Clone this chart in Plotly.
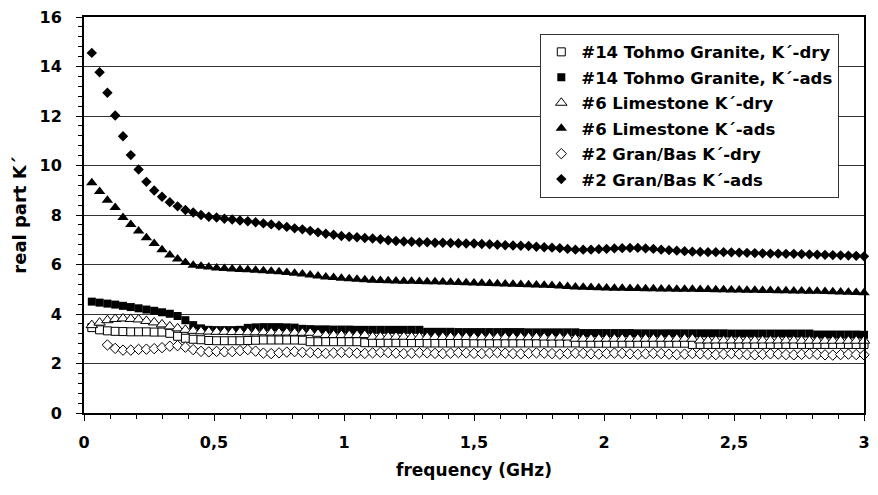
import plotly.graph_objects as go

# frequency sweep (GHz), 100 points
freq = [0.03, 0.06, 0.09, 0.12, 0.15, 0.18, 0.21, 0.24, 0.27, 0.30,
        0.33, 0.36, 0.39, 0.42, 0.45, 0.48, 0.51, 0.54, 0.57, 0.60,
        0.63, 0.66, 0.69, 0.72, 0.75, 0.78, 0.81, 0.84, 0.87, 0.90,
        0.93, 0.96, 0.99, 1.02, 1.05, 1.08, 1.11, 1.14, 1.17, 1.20,
        1.23, 1.26, 1.29, 1.32, 1.35, 1.38, 1.41, 1.44, 1.47, 1.50,
        1.53, 1.56, 1.59, 1.62, 1.65, 1.68, 1.71, 1.74, 1.77, 1.80,
        1.83, 1.86, 1.89, 1.92, 1.95, 1.98, 2.01, 2.04, 2.07, 2.10,
        2.13, 2.16, 2.19, 2.22, 2.25, 2.28, 2.31, 2.34, 2.37, 2.40,
        2.43, 2.46, 2.49, 2.52, 2.55, 2.58, 2.61, 2.64, 2.67, 2.70,
        2.73, 2.76, 2.79, 2.82, 2.85, 2.88, 2.91, 2.94, 2.97, 3.00]

granite_dry = [3.45, 3.36, 3.32, 3.30, 3.29, 3.28, 3.28, 3.28, 3.27, 3.27,
               3.22, 3.10, 3.02, 2.98, 2.96, 2.93, 2.92, 2.92, 2.92, 2.92,
               2.93, 2.94, 2.95, 2.95, 2.95, 2.95, 2.95, 2.94, 2.88, 2.88,
               2.88, 2.88, 2.88, 2.88, 2.88, 2.84, 2.84, 2.84, 2.84, 2.84,
               2.84, 2.84, 2.84, 2.83, 2.83, 2.83, 2.83, 2.83, 2.83, 2.83,
               2.83, 2.83, 2.83, 2.83, 2.83, 2.83, 2.83, 2.83, 2.83, 2.83,
               2.83, 2.83, 2.83, 2.82, 2.82, 2.82, 2.82, 2.82, 2.82, 2.82,
               2.82, 2.82, 2.82, 2.82, 2.82, 2.82, 2.82, 2.77, 2.77, 2.77,
               2.77, 2.77, 2.77, 2.77, 2.77, 2.77, 2.77, 2.77, 2.77, 2.77,
               2.77, 2.77, 2.77, 2.77, 2.77, 2.77, 2.77, 2.77, 2.77, 2.77]

granite_ads = [4.50, 4.46, 4.42, 4.38, 4.33, 4.28, 4.23, 4.18, 4.13, 4.07,
               4.01, 3.92, 3.75, 3.55, 3.42, 3.36, 3.35, 3.35, 3.35, 3.36,
               3.44, 3.46, 3.47, 3.47, 3.47, 3.46, 3.45, 3.40, 3.39, 3.38,
               3.38, 3.37, 3.37, 3.37, 3.36, 3.36, 3.36, 3.36, 3.36, 3.36,
               3.36, 3.36, 3.36, 3.28, 3.28, 3.28, 3.28, 3.27, 3.27, 3.27,
               3.27, 3.27, 3.27, 3.27, 3.27, 3.27, 3.26, 3.26, 3.26, 3.26,
               3.26, 3.26, 3.26, 3.23, 3.23, 3.23, 3.23, 3.23, 3.23, 3.23,
               3.22, 3.22, 3.22, 3.22, 3.22, 3.22, 3.22, 3.22, 3.22, 3.22,
               3.22, 3.22, 3.21, 3.21, 3.21, 3.21, 3.21, 3.21, 3.21, 3.21,
               3.21, 3.21, 3.21, 3.17, 3.17, 3.17, 3.17, 3.17, 3.17, 3.16]

limestone_dry = [3.55, 3.65, 3.75, 3.80, 3.82, 3.80, 3.78, 3.72, 3.66, 3.58,
                 3.50, 3.42, 3.36, 3.32, 3.30, 3.29, 3.28, 3.28, 3.27, 3.27,
                 3.26, 3.26, 3.26, 3.25, 3.25, 3.25, 3.24, 3.24, 3.24, 3.20,
                 3.15, 3.15, 3.15, 3.15, 3.15, 3.15, 3.08, 3.08, 3.08, 3.08,
                 3.08, 3.07, 3.07, 3.07, 3.07, 3.07, 3.07, 3.07, 3.07, 3.06,
                 3.06, 3.06, 3.06, 3.06, 3.06, 3.06, 3.06, 3.06, 3.05, 3.05,
                 3.05, 3.05, 3.00, 3.00, 3.00, 3.00, 3.00, 3.00, 3.00, 3.00,
                 3.00, 3.00, 3.00, 3.00, 3.00, 3.00, 3.00, 3.00, 2.93, 2.93,
                 2.93, 2.93, 2.93, 2.93, 2.93, 2.93, 2.93, 2.93, 2.93, 2.93,
                 2.93, 2.92, 2.92, 2.92, 2.92, 2.92, 2.92, 2.92, 2.92, 2.92]

limestone_ads = [9.30, 8.95, 8.60, 8.30, 7.90, 7.62, 7.35, 7.08, 6.85, 6.60,
                 6.38, 6.22, 6.08, 5.97, 5.93, 5.90, 5.86, 5.84, 5.82, 5.80,
                 5.79, 5.77, 5.75, 5.73, 5.71, 5.68, 5.65, 5.62, 5.58, 5.54,
                 5.50, 5.47, 5.44, 5.42, 5.40, 5.38, 5.36, 5.35, 5.34, 5.33,
                 5.32, 5.32, 5.31, 5.30, 5.30, 5.29, 5.28, 5.27, 5.26, 5.25,
                 5.24, 5.23, 5.22, 5.21, 5.20, 5.19, 5.18, 5.17, 5.16, 5.15,
                 5.13, 5.11, 5.09, 5.08, 5.07, 5.06, 5.05, 5.04, 5.04, 5.03,
                 5.03, 5.02, 5.02, 5.01, 5.01, 5.00, 5.00, 5.00, 4.99, 4.99,
                 4.98, 4.98, 4.97, 4.97, 4.96, 4.96, 4.95, 4.95, 4.94, 4.94,
                 4.93, 4.93, 4.92, 4.92, 4.91, 4.90, 4.89, 4.88, 4.87, 4.86]

granbas_dry = [None, None, 2.75, 2.61, 2.54, 2.54, 2.57, 2.58, 2.60, 2.64,
               2.70, 2.72, 2.66, 2.56, 2.49, 2.47, 2.49, 2.47, 2.48, 2.52,
               2.56, 2.50, 2.42, 2.40, 2.43, 2.46, 2.48, 2.45, 2.44, 2.42,
               2.41, 2.43, 2.45, 2.44, 2.42, 2.41, 2.43, 2.45, 2.44, 2.42,
               2.40, 2.42, 2.44, 2.43, 2.41, 2.40, 2.42, 2.44, 2.43, 2.41,
               2.40, 2.42, 2.44, 2.42, 2.40, 2.39, 2.41, 2.43, 2.42, 2.40,
               2.38, 2.40, 2.42, 2.41, 2.39, 2.38, 2.40, 2.42, 2.41, 2.39,
               2.37, 2.39, 2.41, 2.40, 2.38, 2.36, 2.38, 2.40, 2.39, 2.37,
               2.36, 2.38, 2.40, 2.38, 2.36, 2.35, 2.37, 2.39, 2.38, 2.36,
               2.35, 2.37, 2.39, 2.37, 2.35, 2.34, 2.36, 2.38, 2.36, 2.35]

granbas_ads = [14.55, 13.77, 12.94, 12.02, 11.18, 10.42, 9.84, 9.34, 8.99, 8.74,
               8.52, 8.35, 8.20, 8.10, 8.00, 7.93, 7.90, 7.85, 7.82, 7.78,
               7.75, 7.71, 7.66, 7.62, 7.57, 7.52, 7.46, 7.42, 7.36, 7.30,
               7.24, 7.20, 7.15, 7.12, 7.10, 7.07, 7.05, 7.02, 6.98, 6.95,
               6.93, 6.92, 6.90, 6.90, 6.88, 6.88, 6.87, 6.86, 6.85, 6.85,
               6.83, 6.82, 6.80, 6.78, 6.77, 6.76, 6.75, 6.72, 6.70, 6.68,
               6.66, 6.63, 6.60, 6.60, 6.60, 6.62, 6.63, 6.65, 6.66, 6.67,
               6.67, 6.65, 6.63, 6.60, 6.58, 6.56, 6.54, 6.52, 6.51, 6.50,
               6.50, 6.50, 6.49, 6.48, 6.47, 6.46, 6.45, 6.44, 6.44, 6.43,
               6.43, 6.42, 6.41, 6.40, 6.39, 6.38, 6.37, 6.36, 6.35, 6.33]

series_names = ["#14 Tohmo Granite, K´-dry", "#14 Tohmo Granite, K´-ads",
                "#6 Limestone K´-dry", "#6 Limestone K´-ads",
                "#2 Gran/Bas K´-dry", "#2 Gran/Bas K´-ads"]
series_values = [granite_dry, granite_ads, limestone_dry, limestone_ads,
                 granbas_dry, granbas_ads]

x_ticks = [0, 0.5, 1, 1.5, 2, 2.5, 3]
y_ticks = [0, 2, 4, 6, 8, 10, 12, 14, 16]

styles = [
    dict(symbol="square", size=8, color="white", line=dict(color="black", width=1)),
    dict(symbol="square", size=8, color="black", line=dict(color="black", width=0)),
    dict(symbol="triangle-up", size=10, color="white", line=dict(color="black", width=1)),
    dict(symbol="triangle-up", size=10, color="black", line=dict(color="black", width=0)),
    dict(symbol="diamond", size=8, color="white", line=dict(color="black", width=1)),
    dict(symbol="diamond", size=8, color="black", line=dict(color="black", width=0)),
]

FONT = "DejaVu Sans, Arial, sans-serif"

fig = go.Figure()
for i, (name, vals, st) in enumerate(zip(series_names, series_values, styles)):
    fig.add_trace(go.Scatter(x=freq, y=vals, mode="markers", name=name,
                             legendgroup=f"g{i}", marker=st, cliponaxis=False))

fig.update_layout(
    width=878, height=495,
    margin=dict(l=84, r=8, t=17, b=82),
    paper_bgcolor="white", plot_bgcolor="white",
    separators=", ",
    font=dict(family=FONT, size=15, color="black", weight="bold"),
    showlegend=True,
    legend=dict(x=0.585, y=0.958, xanchor="left", yanchor="top",
                bgcolor="white", bordercolor="#333333", borderwidth=1,
                font=dict(family=FONT, size=16.5, color="black", weight="bold"),
                tracegroupgap=1, itemsizing="trace", traceorder="grouped"),
)

fig.update_xaxes(
    range=[0, 3], tickvals=x_ticks, showgrid=False, zeroline=False,
    showline=True, linecolor="black", linewidth=2, mirror=True,
    ticks="outside", ticklen=6, tickwidth=1, tickcolor="black",
    minor=dict(dtick=0.1, ticks="outside", ticklen=4, tickcolor="black", tickwidth=1),
    tickfont=dict(family=FONT, size=16, weight="bold"),
    ticklabelstandoff=8,
    title=dict(text="frequency (GHz)", font=dict(family=FONT, size=17, weight="bold"),
               standoff=13),
)
fig.update_yaxes(
    range=[0, 16], tickvals=y_ticks, showgrid=True, gridcolor="#333333", gridwidth=1,
    zeroline=False, showline=True, linecolor="black", linewidth=2, mirror=True,
    ticks="outside", ticklen=6, tickwidth=1, tickcolor="black",
    minor=dict(dtick=0.4, ticks="outside", ticklen=4, tickcolor="black", tickwidth=1,
               showgrid=False),
    tickfont=dict(family=FONT, size=16, weight="bold"),
    ticklabelstandoff=11,
    title=dict(text="real part K´", font=dict(family=FONT, size=18, weight="bold"),
               standoff=8),
)

fig.write_html("out.html")
